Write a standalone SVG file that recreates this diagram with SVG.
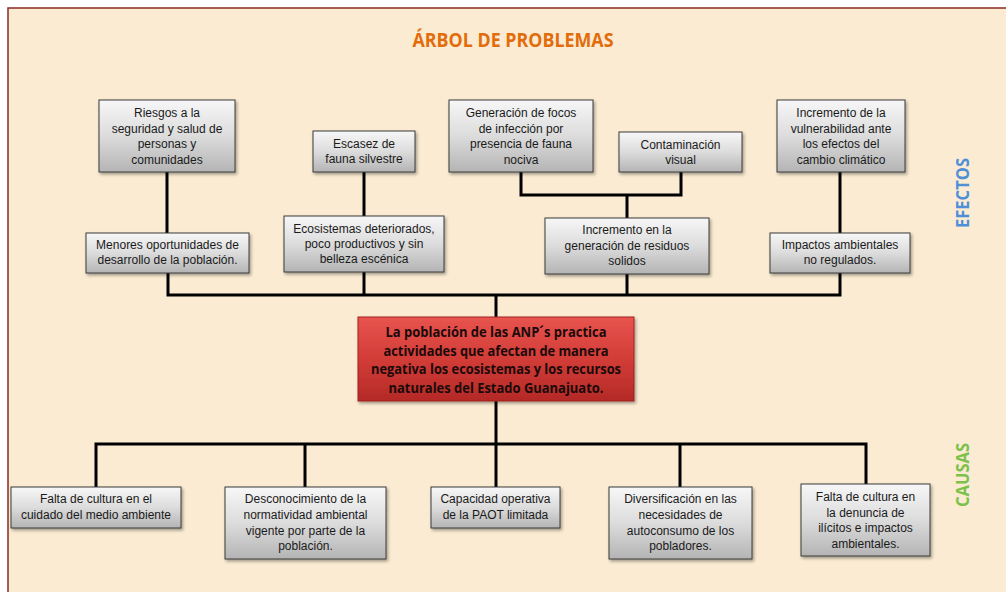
<svg xmlns="http://www.w3.org/2000/svg" width="1006" height="592" viewBox="0 0 1006 592">
<defs>
<linearGradient id="gbox" x1="0" y1="0" x2="0" y2="1">
<stop offset="0" stop-color="#f7f7f7"/>
<stop offset="0.5" stop-color="#dcdcdc"/>
<stop offset="1" stop-color="#b4b4b4"/>
</linearGradient>
<linearGradient id="gred" x1="0" y1="0" x2="0" y2="1">
<stop offset="0" stop-color="#e8544f"/>
<stop offset="0.5" stop-color="#d23c37"/>
<stop offset="1" stop-color="#b42a27"/>
</linearGradient>
<filter id="sh" x="-10%" y="-10%" width="125%" height="135%">
<feDropShadow dx="1.5" dy="2" stdDeviation="1.5" flood-color="#000" flood-opacity="0.35"/>
</filter>
</defs>
<style>
.box{fill:url(#gbox);stroke:#3a3a3a;stroke-width:1;filter:url(#sh)}
.t{font-family:"Liberation Sans",Arial,sans-serif;font-size:12px;fill:#1a1a1a;text-anchor:middle}
.c{font-family:"Open Sans","Liberation Sans",sans-serif;font-weight:bold;font-size:14px;fill:#1a0a0a;text-anchor:middle}
.ln{stroke:#000;stroke-width:3;fill:none;stroke-linejoin:miter}
</style>
<rect x="0" y="0" width="1006" height="592" fill="#ffffff"/>
<rect x="8" y="8" width="998" height="584" fill="#faebd2"/>
<path d="M8 592 V8 H1006" fill="none" stroke="#8b2a22" stroke-width="1.5"/>
<text x="513" y="47" font-family="'Open Sans','Liberation Sans',sans-serif" font-weight="bold" font-size="19" fill="#e36c0a" text-anchor="middle" textLength="201" lengthAdjust="spacingAndGlyphs">ÁRBOL DE PROBLEMAS</text>
<text transform="translate(969,193) rotate(-90)" font-family="'Open Sans','Liberation Sans',sans-serif" font-weight="bold" font-size="17" fill="#4f8fd8" text-anchor="middle" textLength="70" lengthAdjust="spacingAndGlyphs">EFECTOS</text>
<text transform="translate(969,475) rotate(-90)" font-family="'Open Sans','Liberation Sans',sans-serif" font-weight="bold" font-size="17" fill="#7cc24a" text-anchor="middle" textLength="64" lengthAdjust="spacingAndGlyphs">CAUSAS</text>
<g id="connectors">
<path class="ln" d="M167 172 V233"/>
<path class="ln" d="M364 172 V216"/>
<path class="ln" d="M521 172 V195 H681 V172"/>
<path class="ln" d="M627 195 V218"/>
<path class="ln" d="M840 172 V233"/>
<path class="ln" d="M168 273 V295 H840 V273"/>
<path class="ln" d="M364 272 V295"/>
<path class="ln" d="M627 274 V295"/>
<path class="ln" d="M496 295 V317"/>
<path class="ln" d="M496 401 V444"/>
<path class="ln" d="M96 487 V444 H866 V484"/>
<path class="ln" d="M305 444 V487"/>
<path class="ln" d="M496 444 V487"/>
<path class="ln" d="M680 444 V487"/>
</g>
<g id="e-riesgos"><rect class="box" x="99" y="100" width="136" height="72"/>
<text class="t" x="167" y="117">Riesgos a la</text><text class="t" x="167" y="132.5">seguridad y salud de</text><text class="t" x="167" y="148">personas y</text><text class="t" x="167" y="163.5">comunidades</text></g>
<g id="e-escasez"><rect class="box" x="313" y="131" width="102" height="41"/>
<text class="t" x="364" y="148">Escasez de</text><text class="t" x="364" y="163">fauna silvestre</text></g>
<g id="e-generacion"><rect class="box" x="449" y="100" width="144" height="72"/>
<text class="t" x="521" y="117">Generación de focos</text><text class="t" x="521" y="132.5">de infección por</text><text class="t" x="521" y="148">presencia de fauna</text><text class="t" x="521" y="163.5">nociva</text></g>
<g id="e-contaminacion"><rect class="box" x="619" y="132" width="123" height="40"/>
<text class="t" x="680.5" y="149">Contaminación</text><text class="t" x="680.5" y="164">visual</text></g>
<g id="e-vulnerabilidad"><rect class="box" x="777" y="100" width="128" height="72"/>
<text class="t" x="841" y="117">Incremento de la</text><text class="t" x="841" y="132.5">vulnerabilidad ante</text><text class="t" x="841" y="148">los efectos del</text><text class="t" x="841" y="163.5">cambio climático</text></g>
<g id="e-menores"><rect class="box" x="86" y="233" width="163" height="40"/>
<text class="t" x="167.5" y="249">Menores oportunidades de</text><text class="t" x="167.5" y="264">desarrollo de la población.</text></g>
<g id="e-ecosistemas"><rect class="box" x="284" y="216" width="160" height="56"/>
<text class="t" x="364" y="233">Ecosistemas deteriorados,</text><text class="t" x="364" y="248">poco productivos y sin</text><text class="t" x="364" y="263">belleza escénica</text></g>
<g id="e-residuos"><rect class="box" x="545" y="218" width="164" height="56"/>
<text class="t" x="627" y="234">Incremento en la</text><text class="t" x="627" y="250">generación de residuos</text><text class="t" x="627" y="265">solidos</text></g>
<g id="e-impactos"><rect class="box" x="770" y="233" width="140" height="40"/>
<text class="t" x="840" y="249">Impactos ambientales</text><text class="t" x="840" y="264">no regulados.</text></g>
<g id="problema"><rect x="358" y="317" width="276" height="84" fill="url(#gred)" stroke="#a02020" stroke-width="1" filter="url(#sh)"/>
<text class="c" x="496" y="337" textLength="221" lengthAdjust="spacingAndGlyphs">La población de las ANP´s practica</text>
<text class="c" x="496" y="355.5" textLength="225" lengthAdjust="spacingAndGlyphs">actividades que afectan de manera</text>
<text class="c" x="496" y="374" textLength="250" lengthAdjust="spacingAndGlyphs">negativa los ecosistemas y los recursos</text>
<text class="c" x="496" y="393" textLength="215" lengthAdjust="spacingAndGlyphs">naturales del Estado Guanajuato.</text></g>
<g id="c-cultura"><rect class="box" x="11" y="487" width="170" height="41"/>
<text class="t" x="96" y="503">Falta de cultura en el</text><text class="t" x="96" y="519">cuidado del medio ambiente</text></g>
<g id="c-desconocimiento"><rect class="box" x="225" y="487" width="161" height="72"/>
<text class="t" x="305.5" y="503">Desconocimiento de la</text><text class="t" x="305.5" y="519">normatividad ambiental</text><text class="t" x="305.5" y="535">vigente por parte de la</text><text class="t" x="305.5" y="550">población.</text></g>
<g id="c-capacidad"><rect class="box" x="431" y="487" width="129" height="41"/>
<text class="t" x="495.5" y="503">Capacidad operativa</text><text class="t" x="495.5" y="519">de la PAOT limitada</text></g>
<g id="c-diversificacion"><rect class="box" x="609" y="487" width="143" height="72"/>
<text class="t" x="680.5" y="503">Diversificación en las</text><text class="t" x="680.5" y="519">necesidades de</text><text class="t" x="680.5" y="535">autoconsumo de los</text><text class="t" x="680.5" y="550">pobladores.</text></g>
<g id="c-denuncia"><rect class="box" x="801" y="484" width="129" height="72"/>
<text class="t" x="865.5" y="501">Falta de cultura en</text><text class="t" x="865.5" y="517">la denuncia de</text><text class="t" x="865.5" y="532">ilícitos e impactos</text><text class="t" x="865.5" y="548">ambientales.</text></g>
</svg>
